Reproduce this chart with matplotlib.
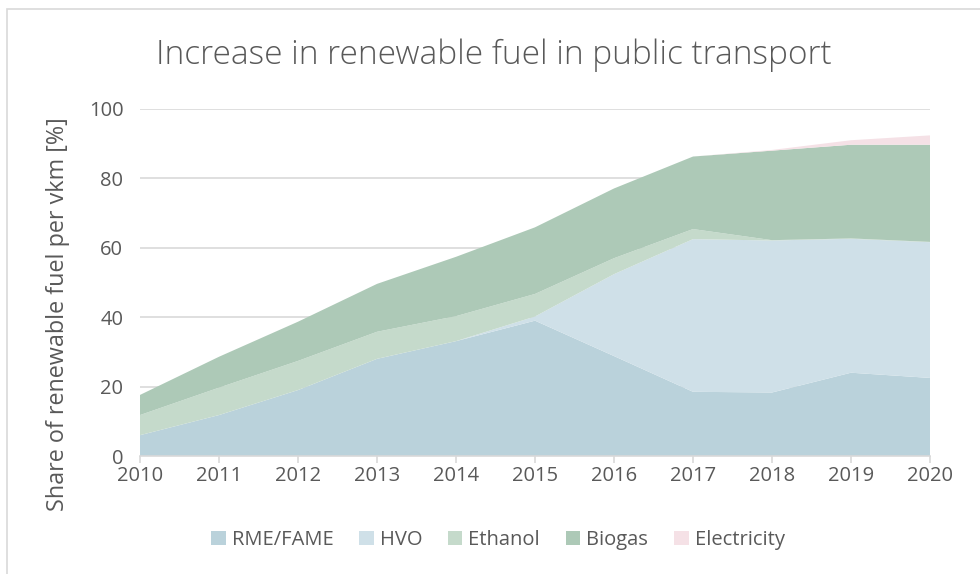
import matplotlib
matplotlib.use("Agg")
import matplotlib.pyplot as plt
from matplotlib.patches import Rectangle, Patch

years = [2010, 2011, 2012, 2013, 2014, 2015, 2016, 2017, 2018, 2019, 2020]
rme = [6.0, 11.8, 19.0, 28.0, 33.1, 39.0, 28.8, 18.5, 18.3, 24.0, 22.5]
hvo = [0.0, 0.0, 0.0, 0.0, 0.0, 1.2, 23.6, 44.0, 43.8, 38.6, 39.1]
ethanol = [5.8, 7.9, 8.4, 7.8, 7.2, 6.5, 4.6, 2.9, 0.1, 0.1, 0.1]
biogas = [5.8, 8.9, 11.3, 13.8, 17.1, 19.2, 20.1, 20.9, 25.8, 27.0, 28.0]
electricity = [0.0, 0.0, 0.0, 0.0, 0.0, 0.0, 0.0, 0.0, 0.2, 1.3, 2.7]

labels = ["RME/FAME", "HVO", "Ethanol", "Biogas", "Electricity"]
colors = ["#bad2db", "#cfe0e8", "#c5dacb", "#adc9b7", "#f5e1e6"]
yticks = [0, 20, 40, 60, 80, 100]

plt.rcParams['font.family'] = ['Open Sans', 'DejaVu Sans']
text_color = "#595959"

fig = plt.figure(figsize=(9.8, 5.74), dpi=100)
fig.patches.append(Rectangle((7/980, -0.01), 1.0, (574-9)/574 + 0.01, transform=fig.transFigure,
                             fill=False, edgecolor="#d9d9d9", linewidth=1.2))
ax = fig.add_axes([140/980, (574-456)/574, 790/980, 347/574])

ax.stackplot(years, rme, hvo, ethanol, biogas, electricity, colors=colors, labels=labels, linewidth=0)

ax.set_xlim(2010, 2020)
ax.set_ylim(0, 100)
ax.set_yticks(yticks)
ax.set_xticks(years)
ax.yaxis.grid(True, color="#d9d9d9", linewidth=1.2)
ax.set_axisbelow(True)
for s in ["top", "right", "left"]:
    ax.spines[s].set_visible(False)
ax.spines["bottom"].set_color("#d9d9d9")
ax.spines["bottom"].set_linewidth(1.2)
ax.spines["bottom"].set_zorder(5)
ax.tick_params(axis="y", length=0, labelsize=14.5, labelcolor=text_color, pad=12)
ax.tick_params(axis="x", length=5, width=1.2, color="#d9d9d9", labelsize=14.5, labelcolor=text_color, pad=2)

ax.set_ylabel("Share of renewable fuel per vkm [%]", fontsize=16.8, color=text_color)
ax.yaxis.set_label_coords(-0.0886, 0.408)
fig.text(494/980, 1 - 55/574, "Increase in renewable fuel in public transport", ha="center", va="center",
         fontsize=24, color=text_color, fontweight="light")

handles = [Patch(facecolor=c, edgecolor="none") for c in colors]
fig.legend(handles, labels, loc="center", bbox_to_anchor=(498/980, 1 - 540/574), ncol=5, frameon=False,
           fontsize=14.5, labelcolor=text_color, handlelength=0.7, handleheight=0.7, handletextpad=0.3,
           columnspacing=1.3)

fig.savefig("out.png", dpi=100)
